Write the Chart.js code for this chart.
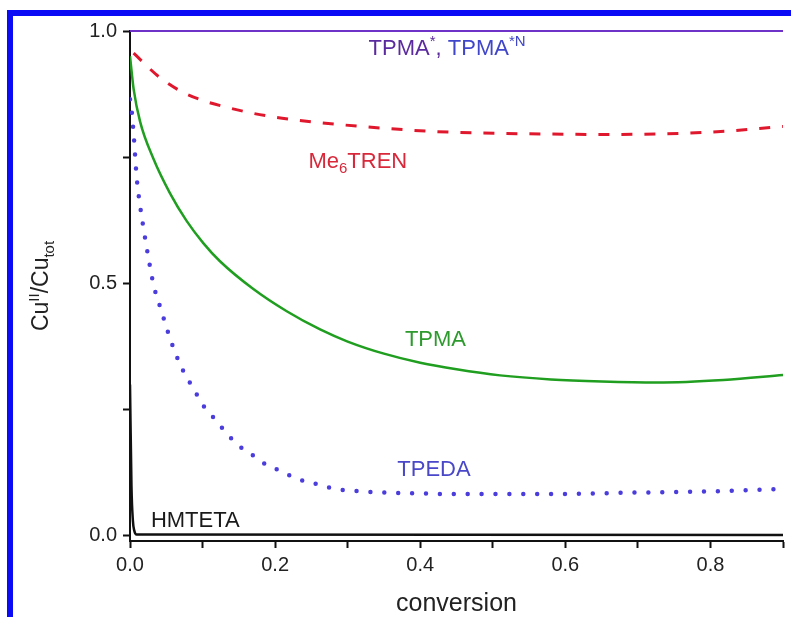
<!DOCTYPE html>
<html>
<head>
<meta charset="utf-8">
<script src="https://cdn.jsdelivr.net/npm/chart.js@4"></script>
<style>
    html, body { margin: 0; padding: 0; background: #fff; }
    #wrap { position: relative; width: 791px; height: 617px; overflow: hidden; }
    #plot { position: absolute; left: 0; top: 0; }
    .frame { position: absolute; background: #0b0bf5; }
    #frame-top { left: 7px; top: 10px; width: 784px; height: 6px; }
    #frame-left { left: 7px; top: 10px; width: 6px; height: 607px; }
</style>
</head>
<body>
<div id="wrap">
    <canvas id="plot" width="791" height="617"></canvas>
    <div class="frame" id="frame-top"></div>
    <div class="frame" id="frame-left"></div>
</div>
<script>
// ligand curves: Cu(II) fraction against conversion
const tpmaStarX = [0, 0.9];
const tpmaStarY = [1, 1];

const me6trenX = [0.005, 0.041, 0.071, 0.101, 0.133, 0.166, 0.197, 0.234, 0.258, 0.294, 0.354, 0.418, 0.483, 0.575, 0.648, 0.803, 0.9];
const me6trenY = [0.956, 0.908, 0.880, 0.862, 0.849, 0.838, 0.830, 0.823, 0.819, 0.814, 0.807, 0.801, 0.798, 0.796, 0.795, 0.800, 0.811];

const tpmaX = [0, 0.005, 0.014, 0.032, 0.055, 0.078, 0.101, 0.124, 0.17, 0.216, 0.262, 0.30, 0.35, 0.40, 0.45, 0.51, 0.58, 0.65, 0.726, 0.818, 0.9];
const tpmaY = [0.95, 0.885, 0.82, 0.748, 0.679, 0.624, 0.580, 0.544, 0.489, 0.445, 0.409, 0.385, 0.361, 0.343, 0.330, 0.318, 0.310, 0.306, 0.304, 0.309, 0.319];

const tpedaX = [0, 0.0023, 0.0055, 0.0092, 0.0138, 0.0193, 0.0253, 0.0322, 0.0437, 0.0552, 0.0699, 0.0897, 0.101, 0.116, 0.131, 0.149, 0.169, 0.188, 0.207, 0.224, 0.244, 0.261, 0.28, 0.322, 0.377, 0.452, 0.566, 0.703, 0.795, 0.9];
const tpedaY = [0.865, 0.842, 0.786, 0.71, 0.655, 0.603, 0.552, 0.499, 0.444, 0.391, 0.337, 0.286, 0.258, 0.233, 0.207, 0.18, 0.16, 0.141, 0.129, 0.117, 0.107, 0.102, 0.094, 0.088, 0.085, 0.083, 0.083, 0.086, 0.088, 0.093];

const hmtetaX = [0, 0.002, 0.004, 0.006, 0.009, 0.9];
const hmtetaY = [0.3, 0.1, 0.03, 0.01, 0.003, 0.002];

// axis ticks
const xTickValues = [0, 0.1, 0.2, 0.3, 0.4, 0.5, 0.6, 0.7, 0.8, 0.9];
const xLabelValues = [0, 0.2, 0.4, 0.6, 0.8];
const yTickValues = [0, 0.25, 0.5, 0.75, 1.0];
const yLabelValues = [0, 0.5, 1.0];

const FONT = "'Liberation Sans', Arial, Helvetica, sans-serif";

function toPoints(xs, ys) {
    return xs.map((x, i) => ({ x: x, y: ys[i] }));
}

// curve labels, anchored at (centre x, baseline y) in data units
const curveLabels = [
    { x: 0.437, y: 0.953, parts: [
        ["TPMA", "#5b2a9e"], ["*", "#5b2a9e", "sup"], [", ", "#5b2a9e"],
        ["TPMA", "#4046c9"], ["*N", "#4046c9", "sup"]
    ] },
    { x: 0.314, y: 0.729, parts: [["Me", "#d8283a"], ["6", "#d8283a", "sub"], ["TREN", "#d8283a"]] },
    { x: 0.421, y: 0.376, parts: [["TPMA", "#2d9a2d"]] },
    { x: 0.419, y: 0.119, parts: [["TPEDA", "#4a48c8"]] },
    { x: 0.090, y: 0.018, parts: [["HMTETA", "#1a1a1a"]] }
];

function drawRich(ctx, parts, x, y, size) {
    const small = Math.round(size * 0.66);
    let total = 0;
    const widths = parts.map(p => {
        ctx.font = `${p[2] ? small : size}px ${FONT}`;
        const w = ctx.measureText(p[0]).width;
        total += w;
        return w;
    });
    let cx = x - total / 2;
    ctx.textAlign = "left";
    ctx.textBaseline = "alphabetic";
    parts.forEach((p, i) => {
        let dy = 0;
        if (p[2] === "sup") dy = -size * 0.38;
        if (p[2] === "sub") dy = size * 0.24;
        ctx.font = `${p[2] ? small : size}px ${FONT}`;
        ctx.fillStyle = p[1];
        ctx.fillText(p[0], cx, y + dy);
        cx += widths[i];
    });
}

const textPlugin = {
    id: "curveText",
    afterDatasetsDraw(chart) {
        const ctx = chart.ctx;
        const xs = chart.scales.x;
        const ys = chart.scales.y;
        const area = chart.chartArea;
        ctx.save();
        curveLabels.forEach(l => {
            drawRich(ctx, l.parts, xs.getPixelForValue(l.x), ys.getPixelForValue(l.y), 22);
        });

        // axis titles
        drawRich(ctx, [["conversion", "#222"]], (area.left + area.right) / 2, 611, 25);

        ctx.translate(area.left - 90, (area.top + area.bottom) / 2);
        ctx.rotate(-Math.PI / 2);
        drawRich(ctx, [
            ["Cu", "#222"], ["II", "#222", "sup"], ["/Cu", "#222"], ["tot", "#222", "sub"]
        ], 0, 8, 23);
        ctx.restore();
    }
};

const lineBase = {
    pointRadius: 0,
    fill: false,
    cubicInterpolationMode: "monotone"
};

new Chart(document.getElementById("plot"), {
    type: "line",
    data: {
        datasets: [
            Object.assign({}, lineBase, {
                label: "TPMA*",
                data: toPoints(tpmaStarX, tpmaStarY),
                borderColor: "#6f32c8",
                borderWidth: 2,
                clip: false
            }),
            Object.assign({}, lineBase, {
                label: "Me6TREN",
                data: toPoints(me6trenX, me6trenY),
                borderColor: "#e0182d",
                borderWidth: 3,
                borderDash: [11, 12]
            }),
            Object.assign({}, lineBase, {
                label: "TPMA",
                data: toPoints(tpmaX, tpmaY),
                borderColor: "#1f9e1f",
                borderWidth: 2.5
            }),
            Object.assign({}, lineBase, {
                label: "TPEDA",
                data: toPoints(tpedaX, tpedaY),
                borderColor: "#4b3ddc",
                borderWidth: 4.5,
                borderCapStyle: "round",
                borderDash: [0, 13.9]
            }),
            Object.assign({}, lineBase, {
                label: "HMTETA",
                data: toPoints(hmtetaX, hmtetaY),
                borderColor: "#111",
                borderWidth: 2.5
            })
        ]
    },
    options: {
        responsive: false,
        animation: false,
        events: [],
        layout: { padding: { left: 0, top: 31, right: 8, bottom: 0 } },
        plugins: {
            legend: { display: false },
            tooltip: { enabled: false }
        },
        scales: {
            x: {
                type: "linear",
                min: 0,
                max: 0.9,
                afterBuildTicks: scale => {
                    scale.ticks = xTickValues.map(v => ({ value: v }));
                },
                afterFit: scale => { scale.height = 76; },
                grid: {
                    drawOnChartArea: false,
                    tickLength: 7,
                    tickWidth: 2,
                    tickColor: "#111"
                },
                border: { color: "#111", width: 2 },
                ticks: {
                    autoSkip: false,
                    maxRotation: 0,
                    padding: 5,
                    color: "#222",
                    font: { family: FONT, size: 20 },
                    callback: v => xLabelValues.some(l => Math.abs(l - v) < 1e-9) ? v.toFixed(1) : ""
                }
            },
            y: {
                type: "linear",
                min: -0.01,
                max: 1.0,
                afterBuildTicks: scale => {
                    scale.ticks = yTickValues.map(v => ({ value: v }));
                },
                afterFit: scale => { scale.width = 130; },
                grid: {
                    drawOnChartArea: false,
                    tickLength: 7,
                    tickWidth: 2,
                    tickColor: "#111"
                },
                border: { color: "#111", width: 2 },
                ticks: {
                    autoSkip: false,
                    padding: 6,
                    color: "#222",
                    font: { family: FONT, size: 20 },
                    callback: v => yLabelValues.some(l => Math.abs(l - v) < 1e-9) ? v.toFixed(1) : ""
                }
            }
        }
    },
    plugins: [textPlugin]
});
</script>
</body>
</html>
